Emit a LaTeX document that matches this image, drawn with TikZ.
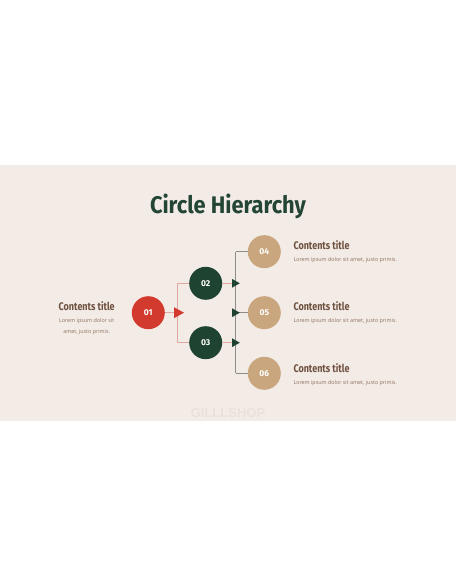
\documentclass[tikz,border=0pt]{standalone}
\usepackage{fontspec}
\setmainfont{Fira Sans}
\newfontfamily\loremfont{Open Sans}
\newfontfamily\wmfont{Liberation Sans}
\usetikzlibrary{arrows.meta}
\definecolor{slidebg}{HTML}{F3ECE6}
\definecolor{titlegreen}{HTML}{234634}
\definecolor{redc}{HTML}{D23A2D}
\definecolor{greenc}{HTML}{1F4331}
\definecolor{tanc}{HTML}{C9A67D}
\definecolor{pinkline}{HTML}{E2A7A1}
\definecolor{grayline}{HTML}{8E8C85}
\definecolor{browntext}{HTML}{6E5140}
\definecolor{loremtext}{HTML}{8F7060}
\definecolor{wmark}{HTML}{E9E1DB}
\tikzset{
  circ/.style={circle, minimum size=33pt, inner sep=0pt, text=white,
    font=\bfseries\fontsize{8.5}{8.5}\selectfont},
  ctitle/.style={inner sep=0pt, text=browntext, font=\bfseries\fontsize{11}{11}\selectfont},
  lorem/.style={inner sep=0pt, text=loremtext, font=\loremfont\fontsize{5.4}{6}\selectfont},
  pline/.style={pinkline, line width=0.8pt},
  gline/.style={grayline, line width=0.7pt}
}
\begin{document}
\begin{tikzpicture}[x=1pt,y=-1pt]
\useasboundingbox (0,0) rectangle (456,586);
\fill[white] (0,0) rectangle (456,586);
\fill[slidebg] (0,165) rectangle (456,421);

% title
\node[inner sep=0pt, text=titlegreen, font=\bfseries\fontsize{24}{24}\selectfont] (title) at (228,206) {\scalebox{0.91}[1]{Circle Hierarchy}};

% circles
\node[circ, fill=redc]   (c1) at (148.3,312.7) {01};
\node[circ, fill=greenc] (c2) at (205.7,283.3) {02};
\node[circ, fill=greenc] (c3) at (205.7,342.7) {03};
\node[circ, fill=tanc]   (c4) at (264.3,251.7) {04};
\node[circ, fill=tanc]   (c5) at (264.3,312.7) {05};
\node[circ, fill=tanc]   (c6) at (264.3,373.3) {06};

% junction coordinates
\coordinate (j1) at (177,312.7);
\coordinate (j1a) at (177,283.3);
\coordinate (j1b) at (177,342.7);
\coordinate (j2a) at (235.7,251.7);
\coordinate (j2b) at (235.7,373.3);
\coordinate (t1) at (179,312.7);
\coordinate (t2) at (236,283.3);
\coordinate (t5) at (236,312.7);
\coordinate (t3) at (236,342.7);

% first level connectors
\draw[pline] (c1.east) -- (j1);
\draw[pline] (j1a) -- (j1b);
\draw[pline] (j1a) -- (c2.west);
\draw[pline] (j1b) -- (c3.west);
\fill[redc] (t1) ++(-5,-5.5) -- ++(10,5.5) -- ++(-10,5.5) -- cycle;

% second level connectors
\draw[gline] (j2a) -- (j2b);
\draw[gline] (j2a) -- (c4.west);
\draw[gline] (t5) -- (c5.west);
\draw[gline] (j2b) -- (c6.west);
\draw[pline] (c2.east) -- (t2);
\draw[pline] (c3.east) -- (t3);
\fill[greenc] (t2) ++(-3.8,-4.3) -- ++(7.6,4.3) -- ++(-7.6,4.3) -- cycle;
\fill[greenc] (t5) ++(-3.8,-4.3) -- ++(7.6,4.3) -- ++(-7.6,4.3) -- cycle;
\fill[greenc] (t3) ++(-3.8,-4.3) -- ++(7.6,4.3) -- ++(-7.6,4.3) -- cycle;

% left text
\node[ctitle] (lt) at (86.7,305.7) {\scalebox{0.82}[1]{Contents title}};
\node[lorem, align=center] (ll) at (86.7,326.5) {Lorem ipsum dolor sit\\[4.5pt]amet, justo primis.};

% right texts
\node[ctitle, anchor=west] (rt4) at (293.3,244.7) {\scalebox{0.82}[1]{Contents title}};
\node[lorem, anchor=west] (rl4) at (293.3,259.7) {Lorem ipsum dolor sit amet, justo primis.};
\node[ctitle, anchor=west] (rt5) at (293.3,306) {\scalebox{0.82}[1]{Contents title}};
\node[lorem, anchor=west] (rl5) at (293.3,321.3) {Lorem ipsum dolor sit amet, justo primis.};
\node[ctitle, anchor=west] (rt6) at (293.3,368.3) {\scalebox{0.82}[1]{Contents title}};
\node[lorem, anchor=west] (rl6) at (293.3,383.3) {Lorem ipsum dolor sit amet, justo primis.};

% watermark
\node[inner sep=0pt, text=wmark, font=\wmfont\bfseries\fontsize{13}{13}\selectfont] (wm) at (228,413.3) {GILLLSHOP};
\end{tikzpicture}
\end{document}
